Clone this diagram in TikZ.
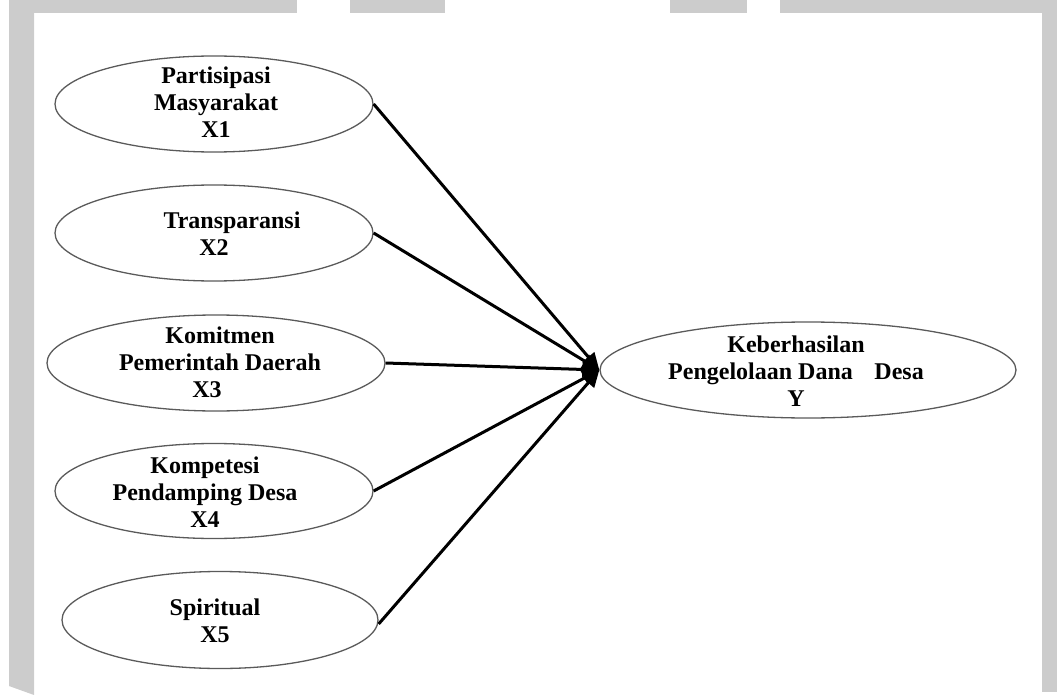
\documentclass[tikz,border=0pt]{standalone}
\usepackage{fontspec}
\setmainfont{Liberation Serif}
\usetikzlibrary{shapes.geometric,arrows.meta}
\definecolor{framegray}{HTML}{CCCCCC}
\definecolor{ellgray}{HTML}{5A5A5A}
\tikzset{
  var/.style={draw=ellgray, line width=1.3pt, ellipse, inner sep=0pt},
  lbl/.style={font=\fontsize{24pt}{27pt}\selectfont\bfseries, align=center, anchor=base, inner sep=0pt},
  conn/.style={line width=3pt, -{Triangle[length=17pt,width=15pt]}},
  band/.style={fill=framegray, draw=none}
}
\begin{document}
\begin{tikzpicture}[x=1pt,y=-1pt]
\useasboundingbox (0,0) rectangle (1057,695);
% frame
\fill[band] (9,0) rectangle (297,13);
\fill[band] (350,0) rectangle (445,13);
\fill[band] (670,0) rectangle (747,13);
\fill[band] (780,0) rectangle (1057,13);
\fill[band] (9,0) -- (34,0) -- (34,695) -- (9,686) -- cycle;
\fill[band] (1042,0) rectangle (1057,692);
% variables
\node[var, minimum width=318pt, minimum height=96pt] (x1) at (214,104) {};
\node[var, minimum width=318pt, minimum height=96pt] (x2) at (214,233) {};
\node[var, minimum width=338pt, minimum height=96pt] (x3) at (216,363) {};
\node[var, minimum width=318pt, minimum height=95pt] (x4) at (214,491) {};
\node[var, minimum width=316pt, minimum height=97pt] (x5) at (220,620) {};
\node[var, minimum width=416pt, minimum height=96pt] (y) at (808,370) {};
% labels (anchor base = baseline of last line)
\node[lbl] (t1) at (216,138) {Partisipasi\\Masyarakat\\X1};
\node[lbl] (t2) at (232,255) {Transparansi\\X2\hspace*{36pt}};
\node[lbl] (t3) at (220,397) {Komitmen\\Pemerintah Daerah\\X3\hspace*{26pt}};
\node[lbl] (t4) at (205,527) {Kompetesi\\Pendamping Desa\\X4};
\node[lbl] (t5) at (215,642) {Spiritual\\X5};
\node[lbl] (ty) at (796,406) {Keberhasilan\\Pengelolaan Dana\hspace{0.9em}Desa\\Y};
% connectors
\draw[conn] (x1.east) -- (y.west);
\draw[conn] (x2.east) -- (y.west);
\draw[conn] (x3.east) -- (y.west);
\draw[conn] (x4.east) -- (y.west);
\draw[conn] ([yshift=-4pt]x5.east) -- (y.west);
\end{tikzpicture}
\end{document}
